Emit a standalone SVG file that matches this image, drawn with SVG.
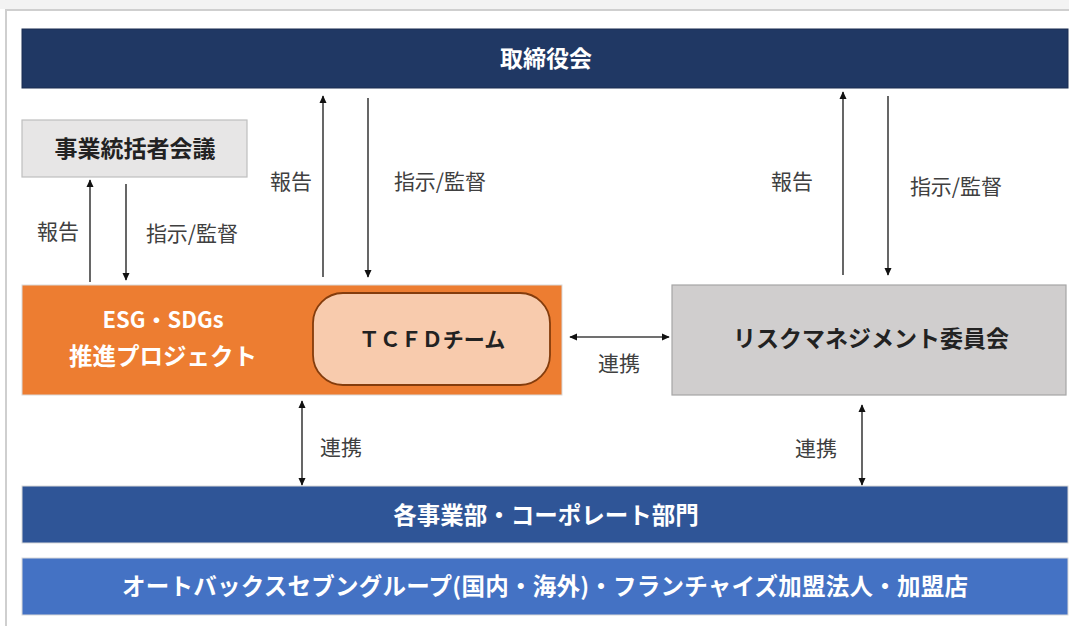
<svg xmlns="http://www.w3.org/2000/svg" width="1069" height="626" viewBox="0 0 1069 626">
<style>
text{font-family:"Noto Sans CJK JP","Noto Sans",sans-serif;text-anchor:middle;dominant-baseline:central}
.w{fill:#ffffff;font-weight:bold}
.b{fill:#222222;font-weight:bold}
.lbl{fill:#404040;font-size:21px}
.ln{stroke:#404040;stroke-width:1.6;fill:none}
</style>
<defs>
<marker id="ah" viewBox="0 0 10 10" refX="9" refY="5" markerWidth="8" markerHeight="8" orient="auto-start-reverse" markerUnits="userSpaceOnUse">
<path d="M0,0.5 L10,5 L0,9.5 z" fill="#111111"/>
</marker>
</defs>
<rect x="0" y="0" width="1069" height="626" fill="#ffffff"/>
<rect x="0" y="0" width="1069" height="9" fill="#f3f3f3"/>
<rect x="6" y="10" width="1080" height="640" fill="none" stroke="#cfcfcf" stroke-width="2"/>

<g id="board">
<rect x="22" y="29" width="1046" height="59" fill="#203864" stroke="#1a2c50" stroke-width="1"/>
<text class="w" x="546" y="57" font-size="23">取締役会</text>
</g>

<g id="business-council">
<rect x="22" y="120" width="225" height="57" fill="#e7e6e6" stroke="#bfbfbf" stroke-width="1.2"/>
<text class="b" x="135" y="147" font-size="23">事業統括者会議</text>
</g>

<g id="esg">
<rect x="22" y="285" width="540" height="110" fill="#ed7d31" stroke="#d9d9d9" stroke-width="1"/>
<text class="w" x="163" y="318" font-size="22" style="font-weight:600">ESG・SDGs</text>
<text class="w" x="163" y="355" font-size="23.5" style="font-weight:600">推進プロジェクト</text>
</g>

<g id="tcfd">
<rect x="313" y="293" width="237" height="92" rx="30" ry="30" fill="#f8cbad" stroke="#843c0c" stroke-width="1.8"/>
<text class="b" x="432" y="338" font-size="21">ＴＣＦＤチーム</text>
</g>

<g id="risk">
<rect x="672" y="285" width="394" height="110" fill="#d0cece" stroke="#a6a6a6" stroke-width="1.2"/>
<text class="b" x="871" y="337" font-size="23">リスクマネジメント委員会</text>
</g>

<g id="divisions">
<rect x="22" y="486" width="1046" height="57" fill="#2f5597" stroke="#d9d9d9" stroke-width="1"/>
<text class="w" x="546" y="514" font-size="23.5">各事業部・コーポレート部門</text>
</g>

<g id="group">
<rect x="22" y="558" width="1046" height="57" fill="#4472c4" stroke="#d9d9d9" stroke-width="1"/>
<text class="w" x="545" y="585" font-size="23.5" textLength="846" lengthAdjust="spacing">オートバックスセブングループ(国内・海外)・フランチャイズ加盟法人・加盟店</text>
</g>

<g id="connectors">
<line class="ln" x1="90" y1="282" x2="90" y2="180" marker-end="url(#ah)"/>
<line class="ln" x1="126" y1="184" x2="126" y2="280" marker-end="url(#ah)"/>
<line class="ln" x1="323" y1="277" x2="323" y2="96" marker-end="url(#ah)"/>
<line class="ln" x1="368" y1="98" x2="368" y2="277" marker-end="url(#ah)"/>
<line class="ln" x1="843" y1="275" x2="843" y2="92" marker-end="url(#ah)"/>
<line class="ln" x1="888" y1="96" x2="888" y2="275" marker-end="url(#ah)"/>
<line class="ln" x1="570" y1="337" x2="669" y2="337" marker-start="url(#ah)" marker-end="url(#ah)"/>
<line class="ln" x1="302" y1="401" x2="302" y2="485" marker-start="url(#ah)" marker-end="url(#ah)"/>
<line class="ln" x1="862" y1="405" x2="862" y2="485" marker-start="url(#ah)" marker-end="url(#ah)"/>
<text class="lbl" x="58" y="230">報告</text>
<text class="lbl" x="192" y="232">指示/監督</text>
<text class="lbl" x="291" y="180">報告</text>
<text class="lbl" x="440" y="180">指示/監督</text>
<text class="lbl" x="792" y="180">報告</text>
<text class="lbl" x="956" y="185">指示/監督</text>
<text class="lbl" x="619" y="362">連携</text>
<text class="lbl" x="341" y="446">連携</text>
<text class="lbl" x="816" y="447">連携</text>
</g>
</svg>
